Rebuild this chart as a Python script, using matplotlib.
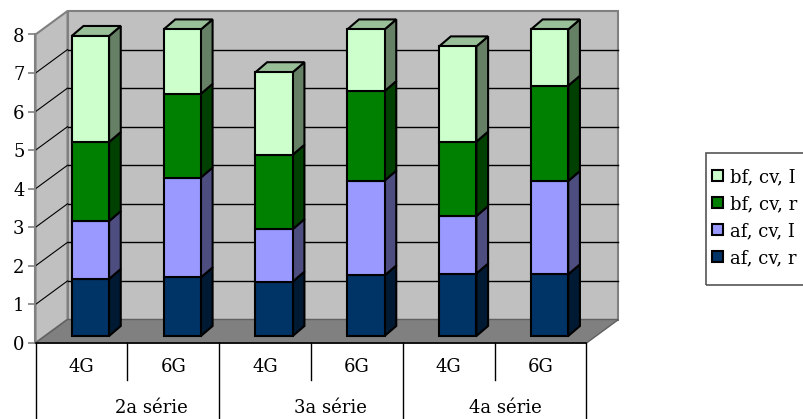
import matplotlib.pyplot as plt
import numpy as np
from matplotlib.patches import Polygon, Rectangle, Patch

plt.rcParams['font.family'] = ['DejaVu Serif']

# chart data
categories = ['4G', '6G', '4G', '6G', '4G', '6G']
groups = ['2a série', '3a série', '4a série']
af_cv_r = [1.48, 1.52, 1.41, 1.57, 1.62, 1.60]
af_cv_I = [1.50, 2.59, 1.36, 2.46, 1.49, 2.42]
bf_cv_r = [2.05, 2.17, 1.93, 2.32, 1.93, 2.47]
bf_cv_I = [2.75, 1.67, 2.14, 1.60, 2.47, 1.46]
series_names = ['af, cv, r', 'af, cv, I', 'bf, cv, r', 'bf, cv, I']

front_colors = ['#003366', '#9999FF', '#008000', '#CCFFCC']
side_colors = ['#001A33', '#4D4D80', '#004000', '#668066']
top_colors = ['#00264D', '#7373BF', '#006000', '#99BF99']

fig = plt.figure(figsize=(8.04, 4.19), dpi=100)
ax = fig.add_axes([35.5 / 804, 76 / 419, 551 / 804, 308.5 / 419])
ax.set_xlim(-0.5, 5.5)
ax.set_ylim(0, 8)
ax.patch.set_visible(False)


def px(dx, dy):
    # shift in screen pixels -> shift in data units
    inv = ax.transData.inverted()
    (x0, y0), (x1, y1) = inv.transform([(0, 0), (dx, dy)])
    return x1 - x0, y1 - y0


# walls and floor of the 3d box
wx, wy = px(32, 23.5)
ax.add_patch(Rectangle((-0.5 + wx, wy), 6, 8, fc='#C0C0C0', ec='#808080', lw=1.5, zorder=1, clip_on=False))
ax.add_patch(Polygon([(-0.5, 0), (-0.5, 8), (-0.5 + wx, 8 + wy), (-0.5 + wx, wy)],
                     fc='#C0C0C0', ec='#808080', lw=1.5, zorder=1, clip_on=False))
ax.add_patch(Polygon([(-0.5, 0), (5.5, 0), (5.5 + wx, wy), (-0.5 + wx, wy)],
                     fc='#808080', ec='#606060', lw=1, zorder=1.2, clip_on=False))

for v in range(1, 8):
    ax.plot([-0.5 + wx, 5.5 + wx], [v + wy, v + wy], color='black', lw=1, zorder=1.5, clip_on=False)
    ax.plot([-0.5, -0.5 + wx], [v, v + wy], color='black', lw=0.8, zorder=1.5, clip_on=False)

# stacked 3d bars
fx, fy = px(9, 7)
bx, by = px(20.7, 17)
ddx, ddy = bx - fx, by - fy
width = 0.406
x = np.arange(len(categories))
stack = [af_cv_r, af_cv_I, bf_cv_r, bf_cv_I]
bottom = np.zeros(len(categories))
for j, vals in enumerate(stack):
    vals = np.array(vals)
    top = bottom + vals
    for i in range(len(categories)):
        xr = x[i] + width / 2 + fx
        xl = x[i] - width / 2 + fx
        ax.add_patch(Polygon([(xr, bottom[i] + fy), (xr, top[i] + fy), (xr + ddx, top[i] + fy + ddy),
                              (xr + ddx, bottom[i] + fy + ddy)],
                             fc=side_colors[j], ec='black', lw=1.5, joinstyle='miter', zorder=3, clip_on=False))
        if j == len(stack) - 1:
            ax.add_patch(Polygon([(xl, top[i] + fy), (xr, top[i] + fy), (xr + ddx, top[i] + fy + ddy),
                                  (xl + ddx, top[i] + fy + ddy)],
                                 fc=top_colors[j], ec='black', lw=1.5, joinstyle='miter', zorder=3, clip_on=False))
    ax.bar(x + fx, vals, width, bottom=bottom + fy, color=front_colors[j], edgecolor='black',
           linewidth=1.5, zorder=4, clip_on=False)
    bottom = top

# axes
for side in ['top', 'right']:
    ax.spines[side].set_visible(False)
ax.spines['left'].set_color('#808080')
ax.spines['left'].set_linewidth(1.5)
ax.spines['bottom'].set_color('black')
ax.spines['bottom'].set_linewidth(1.2)
ax.set_yticks(range(0, 9))
ax.tick_params(axis='y', length=5, width=1.2, color='#808080', labelsize=13, pad=3)
ax.set_xticks([])

# category table below the floor
y_short = -(380 - 343) / 38.56
y_long = -(422 - 343) / 38.56
for k in range(len(categories) + 1):
    yb = y_long if k % 2 == 0 else y_short
    ax.plot([k - 0.5, k - 0.5], [0, yb], color='black', lw=1, clip_on=False, zorder=2)
for i, cat in enumerate(categories):
    ax.text(i, -0.63, cat, ha='center', va='center', fontsize=13)
group_x = [0.76, 2.71, 4.62]
for gx, g in zip(group_x, groups):
    ax.text(gx, -1.68, g, ha='center', va='center', fontsize=13)

# legend, top entry first; its box runs on past the right edge of the figure
handles = [Patch(fc=front_colors[j], ec='black', lw=1.5) for j in range(3, -1, -1)]
labels = [series_names[j] for j in range(3, -1, -1)]
fig.legend(handles, labels, loc='upper left', bbox_to_anchor=(712 / 804, 1 - 168 / 419),
           borderaxespad=0, borderpad=0, fontsize=13, frameon=False,
           handlelength=0.6, handleheight=0.6, handletextpad=0.4, labelspacing=0.5)
fig.patches.append(Rectangle((706.5 / 804, 1 - 285 / 419), 0.2, 132 / 419, transform=fig.transFigure,
                             fill=False, ec='#555555', lw=1.2))

fig.savefig('out.png', dpi=100)
